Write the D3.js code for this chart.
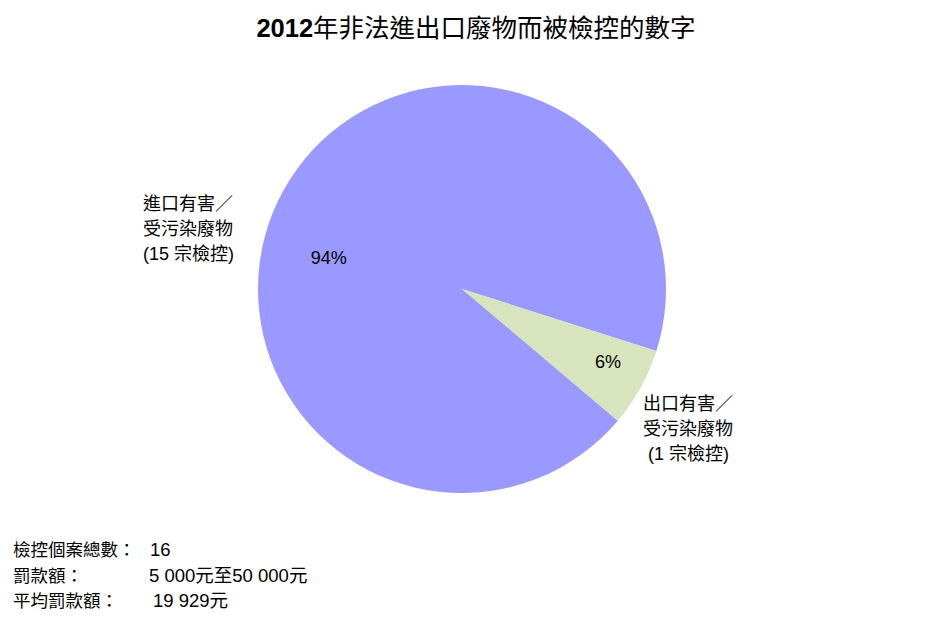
<!DOCTYPE html>
<html>
<head>
<meta charset="utf-8">
<script src="https://cdn.jsdelivr.net/npm/d3@7"></script>
<style>
  body { margin: 0; background: #fff; }
  text { font-family: "Liberation Sans", "Noto Sans CJK TC", sans-serif; fill: #000; }
</style>
</head>
<body>
<div id="chart"></div>
<script>
// data
const categories = ["進口有害／受污染廢物", "出口有害／受污染廢物"];
const cases = [15, 1];
const pctLabels = ["94%", "6%"];
const catLabelLines = [
    ["進口有害／", "受污染廢物", "(15 宗檢控)"],
    ["出口有害／", "受污染廢物", " (1 宗檢控)"]
];
const noteLabels = ["檢控個案總數：", "罰款額：", "平均罰款額："];
const noteValues = ["16", "5 000元至50 000元", "19 929元"];

const colors = ["#9999ff", "#d7e4bd"];

const width = 944, height = 634;
const cx = 462, cy = 289, radius = 204;

const svg = d3.select("#chart")
    .append("svg")
    .attr("width", width)
    .attr("height", height);

// title
const title = svg.append("text")
    .attr("x", 476)
    .attr("y", 37)
    .attr("text-anchor", "middle")
    .style("font-size", "25.5px");
title.append("tspan").style("font-weight", "bold").text("2012");
title.append("tspan").text("年非法進出口廢物而被檢控的數字");

// pie
const pie = d3.pie()
    .sort(null)
    .startAngle(130.2 * Math.PI / 180)
    .endAngle((130.2 + 360) * Math.PI / 180);

const arcs = pie(cases);
const arc = d3.arc().innerRadius(0).outerRadius(radius);

const g = svg.append("g")
    .attr("transform", `translate(${cx},${cy})`);

g.selectAll("path")
    .data(arcs)
    .enter()
    .append("path")
    .attr("d", arc)
    .attr("fill", (d, i) => colors[i]);

// percentage labels (polar offsets from centre: radius factor, angle in degrees)
const pctPos = [
    { r: 0.67, a: -77 },
    { r: 0.8, a: 116.5 }
];
g.selectAll(".pct")
    .data(arcs)
    .enter()
    .append("text")
    .attr("class", "pct")
    .attr("x", (d, i) => Math.sin(pctPos[i].a * Math.PI / 180) * radius * pctPos[i].r)
    .attr("y", (d, i) => -Math.cos(pctPos[i].a * Math.PI / 180) * radius * pctPos[i].r + 6)
    .attr("text-anchor", "middle")
    .style("font-size", "18px")
    .text((d, i) => pctLabels[i]);

// category labels
const catPos = [
    { x: 143, y: 210 },
    { x: 643, y: 410 }
];
catLabelLines.forEach((lines, i) => {
    const t = svg.append("text")
        .attr("x", catPos[i].x)
        .attr("y", catPos[i].y)
        .style("font-size", "18px")
        .attr("xml:space", "preserve");
    lines.forEach((line, j) => {
        t.append("tspan")
            .attr("x", catPos[i].x)
            .attr("dy", j === 0 ? 0 : 25)
            .text(line);
    });
});

// notes
const noteValueX = [150, 149, 153];
noteLabels.forEach((lab, i) => {
    svg.append("text")
        .attr("x", 13)
        .attr("y", 556 + i * 25.5)
        .style("font-size", "17.5px")
        .text(lab);
    svg.append("text")
        .attr("x", noteValueX[i])
        .attr("y", 556 + i * 25.5)
        .style("font-size", "18.5px")
        .text(noteValues[i]);
});
</script>
</body>
</html>
